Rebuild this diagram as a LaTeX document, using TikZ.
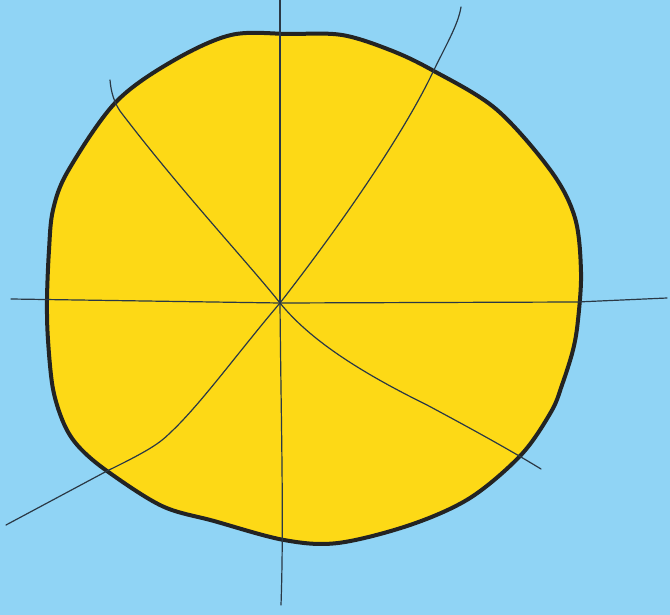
\documentclass[tikz,border=0pt]{standalone}
\usetikzlibrary{calc}
\definecolor{bgblue}{HTML}{90D4F5}
\definecolor{sunyellow}{HTML}{FDD916}
\definecolor{outline}{HTML}{232323}
\definecolor{spoke}{HTML}{2A3845}
\begin{document}
\begin{tikzpicture}[x=1pt,y=-1pt,
  spokeline/.style={draw=spoke,line width=1.2pt,line cap=round},
  rim/.style={draw=outline,line width=4pt,fill=sunyellow,line join=round}]
\fill[bgblue] (0,0) rectangle (670,615);
\useasboundingbox (0,0) rectangle (670,615);
\coordinate (c) at (280,303);
\filldraw[rim] plot[smooth cycle,tension=0.55] coordinates {
 (231,35) (290,34) (342,35) (390,50) (432,70) (496,109) (551,171) (575,218)
 (581,272) (578,320) (573,350) (562,385) (551,412) (521,455) (470,498) (410,525)
 (338,543) (284,540) (214,521) (162,506) (107,471) (79,447) (64,424) (53,389)
 (48,340) (47,300) (49,250) (53,210) (68,171) (115,103) (171,62)};
% spokes
\draw[spokeline] (280,0) -- (c);
\draw[spokeline] (c) .. controls (281,420) and (284,520) .. (281,605);
\draw[spokeline] (11,299) -- (c) -- (577,302) -- (667,298);
\draw[spokeline] (110,80) .. controls (111,92) and (114,102) .. (120,111)
  .. controls (180,190) and (250,265) .. (c);
\draw[spokeline] (c) .. controls (360,200) and (410,120) .. (432,74)
  .. controls (447,43) and (458,25) .. (461,7);
\draw[spokeline] (c) .. controls (310,340) and (360,372) .. (427,405)
  .. controls (470,428) and (510,450) .. (541,469);
\draw[spokeline] (c) .. controls (240,350) and (200,405) .. (171,432)
  .. controls (160,443) and (150,450) .. (107,471) -- (6,525);
\end{tikzpicture}
\end{document}
